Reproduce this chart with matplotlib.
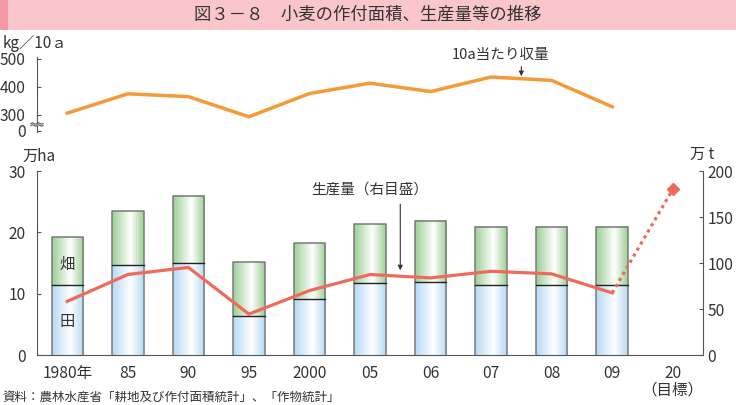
import matplotlib
matplotlib.use("Agg")
import matplotlib.pyplot as plt
import numpy as np
from matplotlib.colors import LinearSegmentedColormap
from matplotlib.patches import Rectangle

plt.rcParams['font.family'] = ['Noto Sans CJK JP', 'DejaVu Sans']

# ---------------- data ----------------
categories = ["1980年", "85", "90", "95", "2000", "05", "06", "07", "08", "09", "20\n（目標）"]
paddy = [11.4, 14.6, 15.0, 6.4, 9.2, 11.7, 11.9, 11.4, 11.4, 11.4]          # 万ha 田
upland = [7.8, 8.8, 11.0, 8.7, 9.0, 9.6, 10.0, 9.5, 9.5, 9.5]              # 万ha 畑
production = [58.3, 87.5, 95.2, 44.4, 70.0, 87.5, 83.8, 91.0, 88.2, 67.5]  # 万t
target_production = 180                                                     # 万t (2020 目標)
yield_per_10a = [306, 375, 365, 293, 376, 413, 383, 435, 423, 329]         # kg/10a
left_ticks = [0, 10, 20, 30]
right_ticks = [0, 50, 100, 150, 200]
top_ticks = [300, 400, 500]

W, H = 736, 405
fig = plt.figure(figsize=(W / 100, H / 100), dpi=100)

def fx(px):
    return px / W

def fy(py):
    return 1 - py / H

# ---------------- title band ----------------
fig.patches.append(Rectangle((0, fy(30)), 1, 30 / H, transform=fig.transFigure,
                             facecolor="#fac6cb", edgecolor="none", zorder=0))
fig.patches.append(Rectangle((0, fy(30)), 8 / W, 30 / H, transform=fig.transFigure,
                             facecolor="#f39aa6", edgecolor="none", zorder=1))
fig.text(0.5, fy(15), "図３－８　小麦の作付面積、生産量等の推移", ha="center", va="center",
         fontsize=12.5, color="#333333")

txt_color = "#333333"
spine_color = "#555555"
tick_fs = 11.2

# ---------------- bottom chart ----------------
ax_l, ax_r = 37, 703
ax = fig.add_axes([fx(ax_l), fy(355), (ax_r - ax_l) / W, (355 - 171) / H])
n = len(categories)
x = np.arange(n)
xb = x[:len(paddy)]
bw = 0.52

def grad_cmap(edge):
    return LinearSegmentedColormap.from_list("g", [edge, "#ffffff", edge])

tgrid = np.linspace(0, 1, 200)
shape = np.where(tgrid < 0.58, tgrid / 0.58 * 0.5, 0.5 + (tgrid - 0.58) / 0.42 * 0.5)
img = shape[None, :]

bars_p = ax.bar(xb, paddy, width=bw, color="none", edgecolor="none", zorder=2)
bars_u = ax.bar(xb, upland, bottom=paddy, width=bw, color="none", edgecolor="none", zorder=2)
for bars, edge in ((bars_p, "#b5daf4"), (bars_u, "#9ccf95")):
    cm = grad_cmap(edge)
    for b in bars:
        x0, y0 = b.get_x(), b.get_y()
        w, h = b.get_width(), b.get_height()
        ax.imshow(img, cmap=cm, vmin=0, vmax=1, extent=(x0, x0 + w, y0, y0 + h),
                  aspect="auto", zorder=2, interpolation="bilinear")
for bp, bu in zip(bars_p, bars_u):
    x0, w = bp.get_x(), bp.get_width()
    top = bu.get_y() + bu.get_height()
    ax.plot([x0, x0, x0 + w, x0 + w], [0, top, top, 0], color="#7a7a7a", lw=1.1, zorder=3)
    ax.plot([x0, x0 + w], [bp.get_height()] * 2, color="#222222", lw=1.0, zorder=3)
ax.set_xlim(-0.5, n - 0.5)
ax.set_ylim(0, 30)

ax.text(xb[0], 14.8, "畑", ha="center", va="center", fontsize=11, color=txt_color, zorder=4)
ax.text(xb[0], 5.5, "田", ha="center", va="center", fontsize=11, color=txt_color, zorder=4)

ax.set_yticks(left_ticks)
ax.set_yticklabels([str(t) for t in left_ticks], fontsize=tick_fs, color=txt_color)
ax.tick_params(axis="y", direction="in", length=3, color=spine_color, pad=8)
ax.set_xticks(x)
ax.set_xticklabels(categories, fontsize=tick_fs, color=txt_color, linespacing=1.0)
ax.tick_params(axis="x", length=0, pad=7)
for s in ("top", "right"):
    ax.spines[s].set_visible(False)
ax.spines["left"].set_color(spine_color)
ax.spines["bottom"].set_color(spine_color)
ax.patch.set_alpha(0)

ax2 = ax.twinx()
ax2.set_ylim(0, 200)
ax2.plot(xb, production, color="#ef6a5b", lw=2.3, zorder=5, solid_joinstyle="miter")
ax2.plot([xb[-1], x[-1]], [production[-1], target_production], color="#ef6a5b", lw=2.3,
         ls=(0, (1, 1.2)), zorder=5)
ax2.plot([x[-1]], [target_production], marker="D", ms=6.5, color="#ef6a5b", zorder=6)
ax2.set_yticks(right_ticks)
ax2.set_yticklabels([str(t) for t in right_ticks], fontsize=tick_fs, color=txt_color)
ax2.tick_params(axis="y", direction="in", length=3, color=spine_color, pad=3)
for s in ("top", "left", "bottom"):
    ax2.spines[s].set_visible(False)
ax2.spines["right"].set_color(spine_color)
ax2.set_xlim(-0.5, n - 0.5)

ax2.annotate("", xy=(5.5, 89), xytext=(5.5, 167),
             arrowprops=dict(arrowstyle="-|>", color="#333333", lw=0.8, mutation_scale=7))
ax2.text(5.0, 180, "生産量（右目盛）", ha="center", va="center", fontsize=10.5, color=txt_color)

fig.text(fx(22), fy(156), "万ha", ha="left", va="center", fontsize=11, color=txt_color)
fig.text(fx(690), fy(154), "万 t", ha="left", va="center", fontsize=11, color=txt_color)

# ---------------- top chart ----------------
zero_pos = 244.0
y_lo, y_hi = 238, 512
at = fig.add_axes([fx(ax_l), fy(130 + (zero_pos - y_lo) * 0.28 + 0.5), (ax_r - ax_l) / W,
                   (y_hi - y_lo) * 0.28 / H])
at.set_xlim(-0.5, n - 0.5)
at.set_ylim(y_lo, y_hi)
at.plot(xb, yield_per_10a, color="#f59a38", lw=2.5, solid_joinstyle="miter")
at.set_yticks(top_ticks + [zero_pos])
at.set_yticklabels([str(t) for t in top_ticks] + ["0"], fontsize=tick_fs, color=txt_color)
at.tick_params(axis="y", direction="in", length=3, color=spine_color, pad=8)
at.set_xticks([])
for s in ("top", "right", "bottom"):
    at.spines[s].set_visible(False)
at.spines["left"].set_color(spine_color)
at.spines["left"].set_bounds(272, 505)
at.plot([-0.5, -0.5], [zero_pos - 4, 261], color=spine_color, lw=0.8, clip_on=False)
# break marks
tt = np.linspace(-0.1, 0.1, 40)
for yb in (269, 262):
    at.plot(-0.5 + tt, yb + 2.2 * np.sin(tt / 0.1 * 2 * np.pi), color=spine_color, lw=0.8,
            clip_on=False)
at.patch.set_alpha(0)

at.annotate("", xy=(7.5, 428), xytext=(7.5, 482),
            arrowprops=dict(arrowstyle="-|>", color="#333333", lw=0.8, mutation_scale=7))
at.text(7.15, 515, "10a当たり収量", ha="center", va="center", fontsize=10.5, color=txt_color)

fig.text(fx(3), fy(44), "kg／10ａ", ha="left", va="center", fontsize=11, color=txt_color)

# ---------------- source ----------------
fig.text(fx(2), fy(397), "資料：農林水産省「耕地及び作付面積統計」、「作物統計」", ha="left",
         va="center", fontsize=9, color=txt_color)

fig.savefig("out.png", dpi=100)
